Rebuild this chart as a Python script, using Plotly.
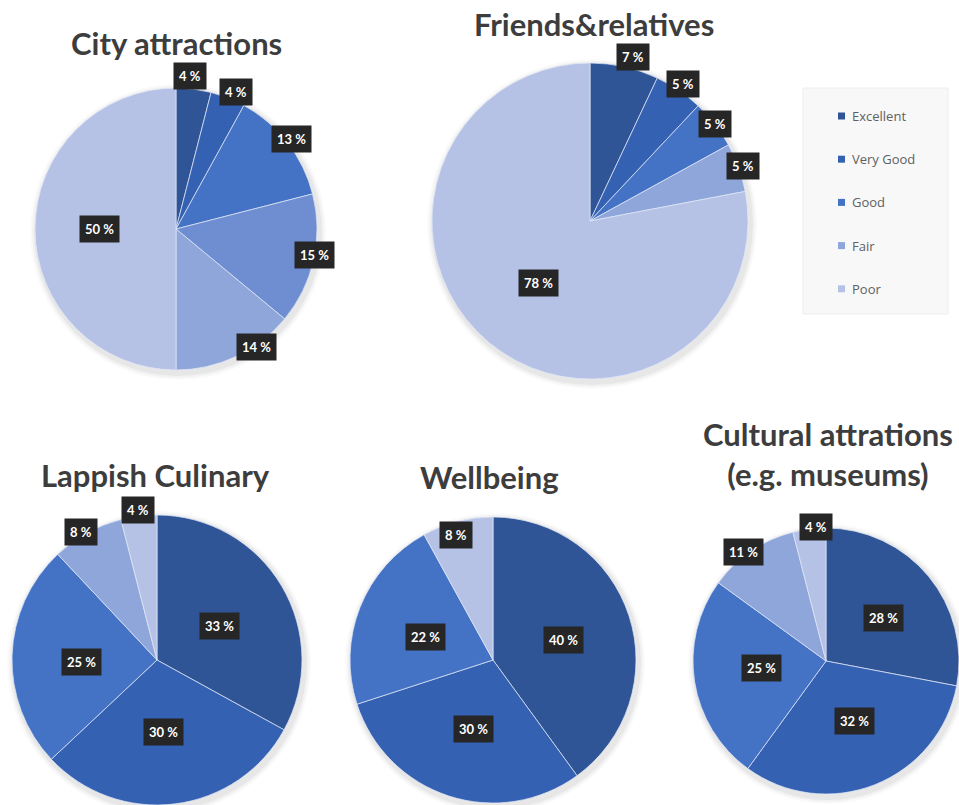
import math
import plotly.graph_objects as go

W, H = 959, 805

# ---- data -------------------------------------------------------------
legend_labels = ["Excellent", "Very Good", "Good", "Fair", "Poor"]

city_labels = ["Excellent", "Very Good", "Good", "Average", "Fair", "Poor"]
city_values = [4, 4, 13, 15, 14, 50]

friends_labels = ["Excellent", "Very Good", "Good", "Fair", "Poor"]
friends_values = [7, 5, 5, 5, 78]

lappish_labels = ["Excellent", "Very Good", "Good", "Fair", "Poor"]
lappish_values = [33, 30, 25, 8, 4]

wellbeing_labels = ["Excellent", "Very Good", "Good", "Poor"]
wellbeing_values = [40, 30, 22, 8]

cultural_labels = ["Excellent", "Very Good", "Good", "Fair", "Poor"]
cultural_values = [28, 32, 25, 11, 4]

# ---- styling ----------------------------------------------------------
COLORS = {
    "Excellent": "#2f5597",
    "Very Good": "#3561b2",
    "Good": "#4472c4",
    "Average": "#6f8ed2",
    "Fair": "#8fa6da",
    "Poor": "#b5c2e5",
}
TITLE_FONT = dict(family="Lato", size=31, color="#3d3d3d")
LABEL_FONT = dict(family="Lato", size=13, color="#ffffff")

# chart -> (title, labels, values, centre x px, centre y px, radius px,
#           label radial factors, label angular nudges in degrees)
charts = [
    ("City attractions", city_labels, city_values, 176, 229, 141,
     [1.09, 1.06, 1.04, 1.00, 1.01, 0.54], [-2, 2, 0, -2, -9, 0]),
    ("Friends&relatives", friends_labels, friends_values, 590, 221, 158,
     [1.07, 1.05, 1.00, 1.03, 0.51], [2, 0, 0, 0, 0]),
    ("Lappish Culinary", lappish_labels, lappish_values, 157, 660, 145,
     [0.49, 0.50, 0.52, 1.03, 1.04], [2, 2, -3, -2, 0]),
    ("Wellbeing", wellbeing_labels, wellbeing_values, 493, 660, 143,
     [0.51, 0.50, 0.50, 0.91], [2, -2, -3, -2]),
    ("Cultural attrations<br>(e.g. museums)", cultural_labels, cultural_values,
     826, 661, 133, [0.54, 0.50, 0.49, 1.03, 1.01], [3, -4, 3, -3, 3]),
]
title_pos = [(176, 43), (594, 24), (155, 475), (489, 477), (828, 454)]


def px(x):
    return x / W


def py(y):
    return 1 - y / H


fig = go.Figure()
shapes = []
annotations = []

for (title, labels, values, cx, cy, r, rf, nudge), (tx, ty) in zip(charts, title_pos):
    fig.add_trace(go.Pie(
        labels=labels,
        values=values,
        sort=False,
        direction="clockwise",
        rotation=0,
        textinfo="none",
        hoverinfo="label+percent",
        marker=dict(colors=[COLORS[l] for l in labels],
                    line=dict(color="rgba(225,232,246,0.9)", width=0.8)),
        domain=dict(x=[px(cx - r), px(cx + r)], y=[py(cy + r), py(cy - r)]),
        showlegend=False,
    ))

    # soft drop shadow behind the pie
    for k, a in [(7, 0.02), (5, 0.03), (3, 0.045)]:
        shapes.append(dict(
            type="circle", xref="paper", yref="paper", layer="below",
            x0=px(cx - r - k + 2), x1=px(cx + r + k + 2),
            y0=py(cy + r + k + 3), y1=py(cy - r - k + 3),
            fillcolor=f"rgba(0,0,0,{a})", line=dict(width=0),
        ))

    # value labels in dark boxes, positioned from the cumulative share
    total = sum(values)
    cum = 0
    for v, f, d in zip(values, rf, nudge):
        mid = (cum + v / 2) / total * 360 + d
        cum += v
        th = math.radians(mid)
        lx = cx + f * r * math.sin(th)
        ly = cy - f * r * math.cos(th)
        annotations.append(dict(
            x=px(lx), y=py(ly), xref="paper", yref="paper",
            text=f"<b>{v} %</b>", showarrow=False,
            font=LABEL_FONT, bgcolor="#262626", borderpad=5,
            xanchor="center", yanchor="middle",
        ))

    annotations.append(dict(
        x=px(tx), y=py(ty), xref="paper", yref="paper",
        text=f"<b>{title}</b>", showarrow=False, font=TITLE_FONT,
        xanchor="center", yanchor="middle", align="center",
    ))

# legend panel
shapes.append(dict(
    type="rect", xref="paper", yref="paper", layer="below",
    x0=px(803), x1=px(948), y0=py(314), y1=py(88),
    fillcolor="#f8f8f8", line=dict(color="#eeeeee", width=1),
))
for i, name in enumerate(legend_labels):
    yc = 116 + i * 43.2
    shapes.append(dict(
        type="rect", xref="paper", yref="paper",
        x0=px(838), x1=px(845), y0=py(yc + 3.5), y1=py(yc - 3.5),
        fillcolor=COLORS[name], line=dict(width=0),
    ))
    annotations.append(dict(
        x=px(850), y=py(yc), xref="paper", yref="paper",
        text=name, showarrow=False,
        font=dict(family="Open Sans", size=13, color="#606060"),
        xanchor="left", yanchor="middle",
    ))

fig.update_layout(
    width=W, height=H,
    margin=dict(l=0, r=0, t=0, b=0),
    paper_bgcolor="#ffffff",
    plot_bgcolor="#ffffff",
    shapes=shapes,
    annotations=annotations,
)

fig.write_html("out.html")
